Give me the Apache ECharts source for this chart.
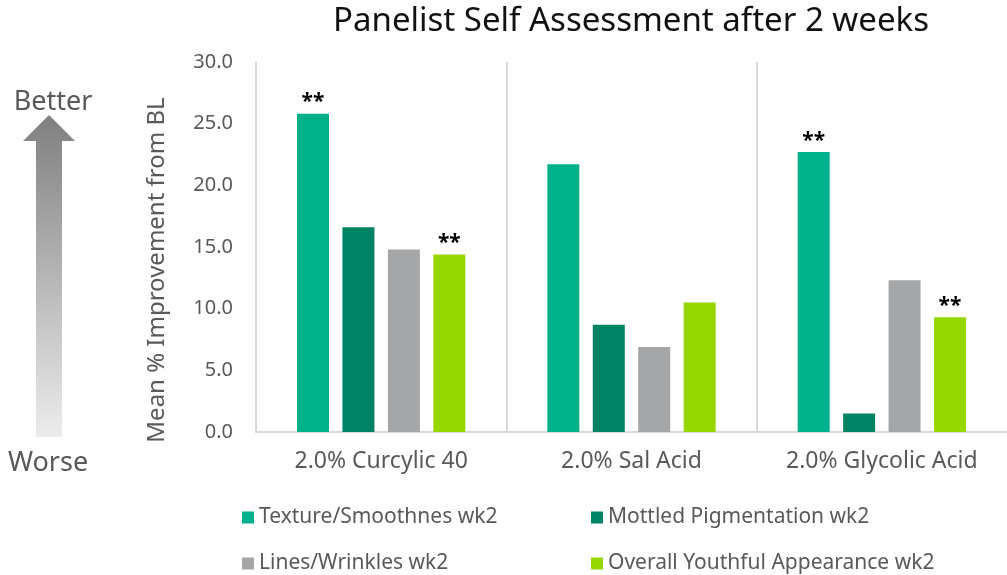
<!DOCTYPE html>
<html style="height: 100%">
<head>
    <meta charset="utf-8">
    <title>Panelist Self Assessment</title>
    <script src="https://cdn.jsdelivr.net/npm/echarts@6/dist/echarts.min.js"></script>
</head>
<body style="height: 100%; margin: 0">
<div id="main" style="width: 1007px; height: 575px"></div>

<script type="text/javascript">
    // data
    var categories = ['2.0% Curcylic 40', '2.0% Sal Acid', '2.0% Glycolic Acid'];
    var seriesNames = ['Texture/Smoothnes wk2', 'Mottled Pigmentation wk2',
        'Lines/Wrinkles wk2', 'Overall Youthful Appearance wk2'];
    var texture = [25.8, 21.7, 22.7];
    var mottled = [16.6, 8.7, 1.5];
    var lines = [14.8, 6.9, 12.3];
    var youthful = [14.4, 10.5, 9.3];
    // significance markers per series / category
    var sigTexture = ['**', '', '**'];
    var sigMottled = ['', '', ''];
    var sigLines = ['', '', ''];
    var sigYouthful = ['**', '', '**'];
    var colors = ['#00b189', '#008264', '#a5a6a8', '#97d700'];

    var values = [texture, mottled, lines, youthful];
    var sigs = [sigTexture, sigMottled, sigLines, sigYouthful];

    var font = 'Noto Sans';
    var myChart = echarts.init(document.getElementById('main'));

    var series = [];
    for (var i = 0; i < values.length; i++) {
        (function (k) {
            series.push({
                name: seriesNames[k],
                type: 'bar',
                data: values[k],
                barWidth: 32,
                barGap: '42%',
                itemStyle: {color: colors[k]},
                label: {
                    show: true,
                    position: 'top',
                    distance: 1,
                    color: '#000',
                    fontSize: 21,
                    fontWeight: 'bold',
                    fontFamily: font,
                    formatter: function (p) { return sigs[k][p.dataIndex]; }
                }
            });
        })(i);
    }

    var legendText = {fontSize: 21, color: '#595959', fontFamily: font};

    var option = {
        animation: false,
        title: {
            text: 'Panelist Self Assessment after 2 weeks',
            left: 626,
            textAlign: 'center',
            top: 0,
            textStyle: {fontSize: 33, fontWeight: 'normal', color: '#111', fontFamily: font}
        },
        legend: [
            {
                orient: 'vertical',
                left: 242,
                top: 507,
                padding: 0,
                itemWidth: 12,
                itemHeight: 12,
                itemGap: 25,
                icon: 'rect',
                data: [seriesNames[0], seriesNames[2]],
                textStyle: legendText
            },
            {
                orient: 'vertical',
                left: 591,
                top: 507,
                padding: 0,
                itemWidth: 12,
                itemHeight: 12,
                itemGap: 25,
                icon: 'rect',
                data: [seriesNames[1], seriesNames[3]],
                textStyle: legendText
            }
        ],
        grid: {left: 256, right: -14, top: 62, bottom: 143, containLabel: false},
        xAxis: {
            type: 'category',
            data: categories,
            axisLine: {lineStyle: {color: '#d9d9d9', width: 2}},
            axisTick: {show: false},
            splitLine: {show: true, showMaxLine: false, lineStyle: {color: '#d9d9d9', width: 2}},
            axisLabel: {fontSize: 23, color: '#595959', margin: 18, fontFamily: font}
        },
        yAxis: {
            type: 'value',
            min: 0,
            max: 30,
            interval: 5,
            axisLine: {show: false},
            splitLine: {show: false},
            axisLabel: {
                fontSize: 20, color: '#595959', margin: 23, fontFamily: font,
                formatter: function (v) { return v.toFixed(1); }
            }
        },
        graphic: [
            {
                type: 'polygon',
                shape: {
                    points: [[49, 115], [75, 141], [62, 141], [62, 437],
                        [36, 437], [36, 141], [23, 141]]
                },
                style: {
                    fill: new echarts.graphic.LinearGradient(0, 0, 0, 1, [
                        {offset: 0, color: '#7f7f7f'},
                        {offset: 1, color: '#ececec'}
                    ])
                }
            },
            {
                type: 'text',
                x: 53,
                y: 102,
                style: {text: 'Better', fontSize: 27, fill: '#595959', fontFamily: font,
                    align: 'center', verticalAlign: 'middle'}
            },
            {
                type: 'text',
                x: 48,
                y: 463,
                style: {text: 'Worse', fontSize: 27, fill: '#595959', fontFamily: font,
                    align: 'center', verticalAlign: 'middle'}
            },
            {
                // y axis title
                type: 'text',
                x: 157,
                y: 270,
                rotation: Math.PI / 2,
                style: {text: 'Mean % Improvement from BL', fontSize: 24, fill: '#595959',
                    fontFamily: font, align: 'center', verticalAlign: 'middle'}
            }
        ],
        series: series
    };
    myChart.setOption(option);
</script>
</body>
</html>
